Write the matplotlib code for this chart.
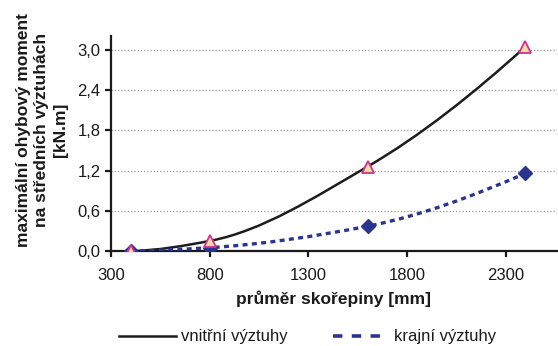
import numpy as np
import matplotlib
matplotlib.use("Agg")
import matplotlib.pyplot as plt
from matplotlib.path import Path
from matplotlib.patches import PathPatch
from matplotlib.lines import Line2D
from matplotlib.ticker import FuncFormatter, FixedLocator

plt.rcParams['font.family'] = ['Liberation Sans', 'DejaVu Sans']

# průměr skořepiny [mm]
diameters = [400, 800, 1600, 2400]
# maximální ohybový moment [kN.m]
inner_moment = [0.0, 0.15, 1.26, 3.05]   # vnitřní výztuhy
edge_moment = [0.0, 0.05, 0.37, 1.16]    # krajní výztuhy

x_ticks = [300, 800, 1300, 1800, 2300]
y_ticks = [0.0, 0.6, 1.2, 1.8, 2.4, 3.0]
series_labels = ["vnitřní výztuhy", "krajní výztuhy"]
x_title = "průměr skořepiny [mm]"
y_title = "maximální ohybový moment\nna středních výztuhách\n[kN.m]"

BLACK = "#1c1c1c"
BLUE = "#2b3590"


def monotone_tangents(x, y):
    x = np.asarray(x, float)
    y = np.asarray(y, float)
    h = np.diff(x)
    d = np.diff(y) / h
    m = np.zeros_like(x)
    for k in range(1, len(x) - 1):
        if d[k - 1] * d[k] > 0:
            w1 = 2 * h[k] + h[k - 1]
            w2 = h[k] + 2 * h[k - 1]
            m[k] = (w1 + w2) / (w1 / d[k - 1] + w2 / d[k])
    m[0] = ((2 * h[0] + h[1]) * d[0] - h[0] * d[1]) / (h[0] + h[1])
    if np.sign(m[0]) != np.sign(d[0]):
        m[0] = 0.0
    m[-1] = ((2 * h[-1] + h[-2]) * d[-1] - h[-1] * d[-2]) / (h[-1] + h[-2])
    if np.sign(m[-1]) != np.sign(d[-1]):
        m[-1] = 0.0
    return m


def smooth_path(x, y):
    """Smoothed line through the points as cubic Bezier segments."""
    m = monotone_tangents(x, y)
    verts = [(x[0], y[0])]
    codes = [Path.MOVETO]
    for i in range(len(x) - 1):
        h = x[i + 1] - x[i]
        verts += [(x[i] + h / 3, y[i] + m[i] * h / 3),
                  (x[i + 1] - h / 3, y[i + 1] - m[i + 1] * h / 3),
                  (x[i + 1], y[i + 1])]
        codes += [Path.CURVE4] * 3
    return Path(verts, codes)


fig = plt.figure(figsize=(5.58, 3.46), dpi=100)
ax = fig.add_axes([111 / 558, 1 - 251 / 346, 446 / 558, 215 / 346])

ax.set_xlim(300, 2560)
ax.set_ylim(0, 3.21)

# horizontal dotted grid
for v in y_ticks[1:]:
    ax.axhline(v, color="#9a9a9a", lw=0.9, ls=(0, (1, 1.6)), zorder=1)

ax.add_patch(PathPatch(smooth_path(diameters, inner_moment), fill=False,
                       edgecolor=BLACK, lw=1.8, zorder=3))
ax.add_patch(PathPatch(smooth_path(diameters, edge_moment), fill=False,
                       edgecolor=BLUE, lw=2.4, ls=(0, (1.5, 1.3)),
                       capstyle="butt", zorder=3))

ax.plot(diameters, edge_moment, ls="none", marker="D", ms=7.5,
        mfc=BLUE, mec=BLUE, zorder=4)
ax.plot(diameters, inner_moment, ls="none", marker="^", ms=9,
        mfc="#f6dca0", mec="#d0308f", mew=1.3, zorder=5)

for s in ("top", "right"):
    ax.spines[s].set_visible(False)
for s in ("left", "bottom"):
    ax.spines[s].set_linewidth(1.6)
    ax.spines[s].set_color("#1a1a1a")

ax.xaxis.set_major_locator(FixedLocator(x_ticks))
ax.yaxis.set_major_locator(FixedLocator(y_ticks))
ax.yaxis.set_major_formatter(FuncFormatter(lambda v, p: f"{v:.1f}".replace(".", ",")))
ax.tick_params(axis="both", direction="out", length=4.5, width=1.6,
               color="#1a1a1a", labelsize=12, labelcolor="#1a1a1a")
ax.tick_params(axis="y", pad=3)
ax.tick_params(axis="x", pad=8)

ax.set_xlabel(x_title, fontsize=12.5, fontweight="bold", color="#1a1a1a",
              labelpad=5)
fig.text(42 / 558, 1 - 130 / 346, y_title, rotation=90, ha="center",
         va="center", multialignment="center", fontsize=12.5,
         fontweight="bold", color="#1a1a1a", linespacing=1.28)

handles = [Line2D([], [], color=BLACK, lw=1.8),
           Line2D([], [], color=BLUE, lw=2.6, ls=(0, (2.6, 2.6)))]
fig.legend(handles, series_labels, loc="center", ncol=2,
           bbox_to_anchor=(308 / 558, 1 - 337 / 346), frameon=False,
           fontsize=12, handlelength=3.4, handletextpad=0.3,
           columnspacing=2.7, labelcolor="#1a1a1a")

fig.savefig("out.png", dpi=100)
